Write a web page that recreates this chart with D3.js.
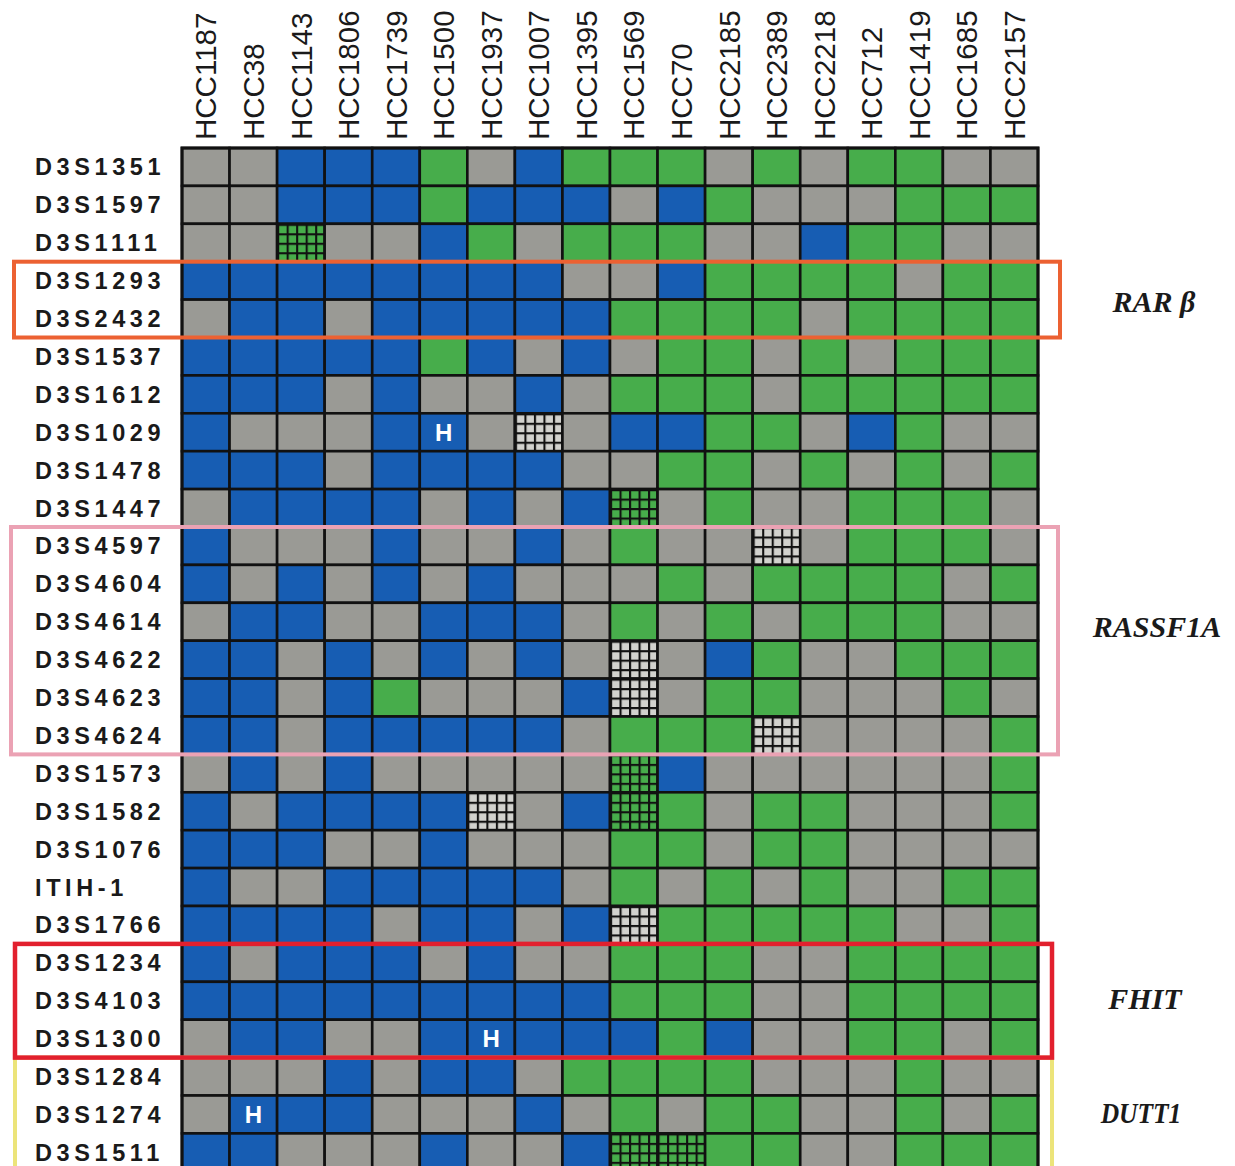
<!DOCTYPE html>
<html>
<head>
<meta charset="utf-8">
<script src="https://cdn.jsdelivr.net/npm/d3@7"></script>
<style>
  html, body { margin: 0; padding: 0; background: #ffffff; }
  svg { display: block; }
</style>
</head>
<body>
<div id="chart"></div>
<script>
// ---------- DATA ----------
const cellLines = ["HCC1187","HCC38","HCC1143","HCC1806","HCC1739","HCC1500","HCC1937","HCC1007","HCC1395",
                   "HCC1569","HCC70","HCC2185","HCC2389","HCC2218","HCC712","HCC1419","HCC1685","HCC2157"];

const markers = ["D3S1351","D3S1597","D3S1111","D3S1293","D3S2432","D3S1537","D3S1612","D3S1029","D3S1478",
                 "D3S1447","D3S4597","D3S4604","D3S4614","D3S4622","D3S4623","D3S4624","D3S1573","D3S1582",
                 "D3S1076","ITIH-1","D3S1766","D3S1234","D3S4103","D3S1300","D3S1284","D3S1274","D3S1511"];

// One string per marker, one letter per cell line.
// B = LOH (blue), N = retained / heterozygous (green), G = non-informative (gray),
// H = LOH with "H" mark, X = hatched (light), Y = hatched (green)
const cellStates = [
  "GGBBBNGBNNNGNGNNGG",
  "GGBBBNBBBGBNGGGNNN",
  "GGYGGBNGNNNGGBNNGG",
  "BBBBBBBBGGBNNNNGNN",
  "GBBGBBBBBNNNNGNNNN",
  "BBBBBNBGBGNNGNGNNN",
  "BBBGBGGBGNNNGNNNNN",
  "BGGGBHGXGBBNNGBNGG",
  "BBBGBBBBGGNNGNGNGN",
  "GBBBBGBGBYGNGGNNNG",
  "BGGGBGGBGNGGXGNNNG",
  "BGBGBGBGGGNGNNNNGN",
  "GBBGGBBBGNGNGNNNGG",
  "BBGBGBGBGXGBNGGNNN",
  "BBGBNGGGBXGNNGGGNG",
  "BBGBBBBBGNNNXGGGGN",
  "GBGBGGGGGYBGGGGGGN",
  "BGBBBBXGBYNGNNGGGN",
  "BBBGGBGGGNNGNNGGGG",
  "BGGBBBBBGNGNGNGGNN",
  "BBBBGBBGBXNNNNNGGN",
  "BGBBBGBGGNNNGGNNNN",
  "BBBBBBBBBNNNGGNNNN",
  "GBBGGBHBBBNBGGNNGN",
  "GGGBGBBGNNNNGGGNGG",
  "GHBBGGGBGNGNNGGNGN",
  "BBGGGBGGBYYNNGGNNN"
];

const geneNames   = ["RAR \u03B2", "RASSF1A", "FHIT", "DUTT1"];
const geneFirst   = ["D3S1293", "D3S4597", "D3S1234", "D3S1284"];
const geneLast    = ["D3S2432", "D3S4624", "D3S1300", "D3S1511"];

// ---------- STYLE ----------
const W = 1235, H = 1166;
const grid = { left: 182, right: 1038, top: 148, rowH: 37.9 };
const fills = { B: "#175db3", N: "#47ad4b", G: "#9a9a95", H: "#175db3", X: "#d2d2ce", Y: "#47ad4b" };
const geneStyle = {
  "RAR \u03B2": { color: "#ec6132", left: 14, right: 1060, width: 4,   lx: 1154, ldy: 2,   size: 30, stretch: 1 },
  "RASSF1A":   { color: "#eba2b4", left: 11, right: 1058, width: 4,   lx: 1157, ldy: -14, size: 30, stretch: 1 },
  "FHIT":      { color: "#e2202e", left: 15, right: 1052, width: 4.5, lx: 1145, ldy: -2,  size: 30, stretch: 1 },
  "DUTT1":     { color: "#ece47a", left: 15, right: 1052, width: 4,   lx: 1141, ldy: -2,  size: 30, stretch: 0.85 }
};

const svg = d3.select("#chart").append("svg")
  .attr("width", W).attr("height", H)
  .attr("viewBox", `0 0 ${W} ${H}`);

const x = d3.scaleBand().domain(cellLines).range([grid.left, grid.right]).padding(0);
const y = d3.scaleBand().domain(markers)
  .range([grid.top, grid.top + grid.rowH * markers.length]).padding(0);

// hatch patterns aligned to grid
const defs = svg.append("defs");
function hatch(id, base) {
  const pw = x.bandwidth() / 5, ph = y.bandwidth() / 4;
  const p = defs.append("pattern").attr("id", id)
    .attr("patternUnits", "userSpaceOnUse")
    .attr("x", grid.left).attr("y", grid.top)
    .attr("width", pw).attr("height", ph);
  p.append("rect").attr("width", pw).attr("height", ph).attr("fill", base);
  p.append("path").attr("d", `M0,0H${pw}M0,0V${ph}`)
    .attr("stroke", "#111").attr("stroke-width", 4.2).attr("fill", "none");
}
hatch("hatchLight", fills.X);
hatch("hatchGreen", fills.Y);

// cells
const cells = [];
markers.forEach((m, i) => {
  cellStates[i].split("").forEach((s, j) => cells.push({ marker: m, line: cellLines[j], state: s }));
});

const cellG = svg.append("g");
cellG.selectAll("rect.cell").data(cells).join("rect")
  .attr("class", "cell")
  .attr("x", d => x(d.line))
  .attr("y", d => y(d.marker))
  .attr("width", x.bandwidth())
  .attr("height", y.bandwidth())
  .attr("fill", d => d.state === "X" ? "url(#hatchLight)" : d.state === "Y" ? "url(#hatchGreen)" : fills[d.state])
  .attr("stroke", "#111")
  .attr("stroke-width", 2.6);

cellG.selectAll("text.h").data(cells.filter(d => d.state === "H")).join("text")
  .attr("class", "h")
  .attr("x", d => x(d.line) + x.bandwidth() / 2)
  .attr("y", d => y(d.marker) + y.bandwidth() / 2)
  .attr("dy", "0.36em")
  .attr("text-anchor", "middle")
  .attr("font-family", "Liberation Sans, Arial, sans-serif")
  .attr("font-weight", "bold")
  .attr("font-size", 24)
  .attr("fill", "#ffffff")
  .text("H");

// outer border
svg.append("rect")
  .attr("x", grid.left).attr("y", grid.top)
  .attr("width", grid.right - grid.left)
  .attr("height", grid.rowH * markers.length)
  .attr("fill", "none").attr("stroke", "#111").attr("stroke-width", 3);

// column labels
svg.append("g").selectAll("text").data(cellLines).join("text")
  .attr("transform", d => `translate(${x(d) + x.bandwidth() / 2},140) rotate(-90)`)
  .attr("dy", "0.36em")
  .attr("text-anchor", "start")
  .attr("font-family", "Liberation Sans, Arial, sans-serif")
  .attr("font-size", 29.5)
  .attr("fill", "#1a1a1a")
  .text(d => d);

// row labels
svg.append("g").selectAll("text").data(markers).join("text")
  .attr("x", 35)
  .attr("y", d => y(d) + y.bandwidth() / 2)
  .attr("dy", "0.36em")
  .attr("font-family", "Liberation Sans, Arial, sans-serif")
  .attr("font-weight", "bold")
  .attr("font-size", 23.5)
  .attr("letter-spacing", "4.6px")
  .attr("fill", "#1a1a1a")
  .text(d => d);

// gene boxes (yellow first so red overlaps it)
const order = [3, 0, 1, 2];
const boxG = svg.append("g");
order.forEach(k => {
  const name = geneNames[k], st = geneStyle[name];
  const y0 = y(geneFirst[k]), y1 = y(geneLast[k]) + y.bandwidth();
  boxG.append("rect")
    .attr("x", st.left).attr("y", y0)
    .attr("width", st.right - st.left)
    .attr("height", name === "DUTT1" ? y1 - y0 + 20 : y1 - y0)
    .attr("fill", "none")
    .attr("stroke", st.color)
    .attr("stroke-width", st.width);
});

// gene labels
svg.append("g").selectAll("text").data(geneNames).join("text")
  .attr("transform", (d, k) => {
    const st = geneStyle[d];
    const cy = (y(geneFirst[k]) + y(geneLast[k]) + y.bandwidth()) / 2 + st.ldy;
    return `translate(${st.lx},${cy}) scale(${st.stretch},1)`;
  })
  .attr("dy", "0.35em")
  .attr("text-anchor", "middle")
  .attr("font-family", "Liberation Serif, Times New Roman, serif")
  .attr("font-style", "italic")
  .attr("font-weight", "bold")
  .attr("font-size", d => geneStyle[d].size)
  .attr("fill", "#1a1a1a")
  .text(d => d);
</script>
</body>
</html>
